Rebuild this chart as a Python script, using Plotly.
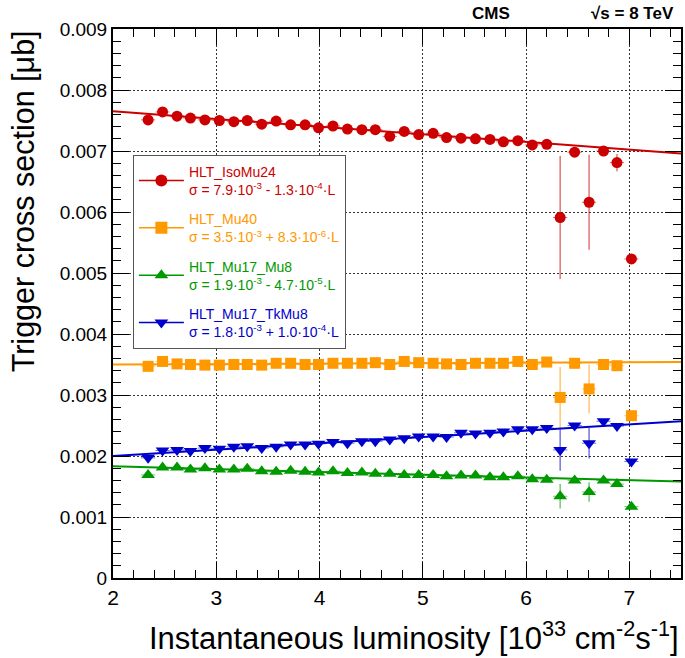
import plotly.graph_objects as go

# luminosity bin centres [10^33 cm^-2 s^-1]
lumi = [2.34, 2.48, 2.62, 2.75, 2.89, 3.03, 3.17, 3.30, 3.44, 3.58, 3.72, 3.86,
        3.99, 4.13, 4.27, 4.41, 4.54, 4.68, 4.82, 4.96, 5.10, 5.23, 5.37, 5.51,
        5.65, 5.78, 5.92, 6.06, 6.20, 6.33, 6.47, 6.61, 6.75, 6.88, 7.02]
lumi_halfwidth = 0.069

isomu24 = [0.00751, 0.00764, 0.00757, 0.00754, 0.00751, 0.00750, 0.00748, 0.00750,
           0.00744, 0.00749, 0.00743, 0.00743, 0.00738, 0.00741, 0.00736, 0.00735,
           0.00735, 0.00724, 0.00732, 0.00727, 0.00729, 0.00722, 0.00721, 0.00720,
           0.00719, 0.00715, 0.00717, 0.00710, 0.00711, 0.00591, 0.00698, 0.00616,
           0.00700, 0.00681, 0.00523]
isomu24_err = [0.00003] * 29 + [0.00101, 0.00004, 0.00078, 0.00004, 0.00014, 0.00004]

mu40 = [0.00347, 0.00355, 0.00351, 0.00350, 0.00349, 0.00349, 0.00350, 0.00350,
        0.00349, 0.00352, 0.00352, 0.00350, 0.00350, 0.00352, 0.00352, 0.00352,
        0.00353, 0.00350, 0.00355, 0.00353, 0.00352, 0.00351, 0.00350, 0.00352,
        0.00352, 0.00352, 0.00355, 0.00350, 0.00354, 0.00296, 0.00352, 0.00310,
        0.00350, 0.00348, 0.00266]
mu40_err = [0.00002] * 29 + [0.00050, 0.00003, 0.00040, 0.00003, 0.00005, 0.00003]

mu17_mu8 = [0.00169, 0.00181, 0.00181, 0.00178, 0.00180, 0.00178, 0.00178, 0.00179,
            0.00175, 0.00174, 0.00176, 0.00174, 0.00173, 0.00175, 0.00172, 0.00173,
            0.00171, 0.00171, 0.00169, 0.00169, 0.00169, 0.00167, 0.00168, 0.00168,
            0.00165, 0.00165, 0.00167, 0.00162, 0.00161, 0.00134, 0.00160, 0.00141,
            0.00160, 0.00154, 0.00117]
mu17_mu8_err = [0.00002] * 29 + [0.00020, 0.00002, 0.00016, 0.00002, 0.00004, 0.00002]

mu17_tkmu8 = [0.00197, 0.00209, 0.00210, 0.00208, 0.00213, 0.00212, 0.00215, 0.00216,
              0.00213, 0.00215, 0.00219, 0.00219, 0.00220, 0.00223, 0.00221, 0.00224,
              0.00224, 0.00227, 0.00229, 0.00232, 0.00232, 0.00231, 0.00238, 0.00237,
              0.00238, 0.00240, 0.00244, 0.00244, 0.00246, 0.00210, 0.00250, 0.00221,
              0.00257, 0.00249, 0.00191]
mu17_tkmu8_err = [0.00002] * 29 + [0.00034, 0.00003, 0.00025, 0.00003, 0.00004, 0.00003]

# linear fits, read at the axis ends
fit_x = [2.0, 7.5]
isomu24_fit = [0.00765, 0.00696]
mu40_fit = [0.00350, 0.00354]
mu17_mu8_fit = [0.00183, 0.00158]
mu17_tkmu8_fit = [0.00200, 0.00257]

series = [
    ("HLT_IsoMu24", "σ = 7.9·10<sup>-3</sup> - 1.3·10<sup>-4</sup>·L",
     isomu24, isomu24_err, isomu24_fit, "#cc0000", "rgba(204,0,0,0.55)", "circle", 11),
    ("HLT_Mu40", "σ = 3.5·10<sup>-3</sup> + 8.3·10<sup>-6</sup>·L",
     mu40, mu40_err, mu40_fit, "#ff9900", "rgba(255,153,0,0.55)", "square", 11),
    ("HLT_Mu17_Mu8", "σ = 1.9·10<sup>-3</sup> - 4.7·10<sup>-5</sup>·L",
     mu17_mu8, mu17_mu8_err, mu17_mu8_fit, "#009900", "rgba(0,153,0,0.55)", "triangle-up", 12),
    ("HLT_Mu17_TkMu8", "σ = 1.8·10<sup>-3</sup> + 1.0·10<sup>-4</sup>·L",
     mu17_tkmu8, mu17_tkmu8_err, mu17_tkmu8_fit, "#0000cc", "rgba(0,0,204,0.55)", "triangle-down", 12),
]

y_ticks = [0, 0.001, 0.002, 0.003, 0.004, 0.005, 0.006, 0.007, 0.008, 0.009]
y_ticktext = ["0", "0.001", "0.002", "0.003", "0.004", "0.005", "0.006", "0.007", "0.008", "0.009"]

fig = go.Figure()

for i, (name, formula, vals, errs, fit, col, col_light, sym, msize) in enumerate(series):
    grp = f"g{i}"
    fig.add_trace(go.Scatter(
        x=fit_x, y=fit, mode="lines", showlegend=False, legendgroup=grp,
        line=dict(color=col, width=2), hoverinfo="skip",
    ))
    fig.add_trace(go.Scatter(
        x=lumi, y=vals, mode="markers", showlegend=False, legendgroup=grp,
        marker=dict(symbol=sym, size=msize, color=col, line=dict(width=0)),
        error_y=dict(type="data", array=errs, color=col_light, thickness=1.5, width=0),
        error_x=dict(type="constant", value=lumi_halfwidth, color=col_light, thickness=1, width=0),
    ))
    # legend entry (marker with a horizontal line, like the fit)
    label = (f'<span style="color:{col}">{name}</span><br>'
             f'<span style="color:{col}">{formula}</span>')
    fig.add_trace(go.Scatter(
        x=[None], y=[None], mode="lines+markers", name=label, legendgroup=grp,
        legendrank=i, line=dict(color=col, width=1.5),
        marker=dict(symbol=sym, size=12, color=col),
    ))

axis_common = dict(
    showline=True, linecolor="black", linewidth=2, mirror="allticks",
    ticks="inside", ticklen=16, tickcolor="black", tickwidth=1,
    showgrid=True, gridcolor="#333333", gridwidth=1, griddash="2px,2px",
    zeroline=False,
)

fig.update_xaxes(
    range=[2, 7.5], tickvals=[2, 3, 4, 5, 6, 7],
    tickfont=dict(size=21, color="black"),
    minor=dict(ticks="inside", ticklen=8, dtick=0.2, tick0=2, tickcolor="black", showgrid=False),
    **axis_common,
)
fig.update_yaxes(
    range=[0, 0.009], tickvals=y_ticks, ticktext=y_ticktext,
    tickfont=dict(size=19, color="black"),
    minor=dict(ticks="inside", ticklen=8, dtick=0.0002, tick0=0, tickcolor="black", showgrid=False),
    **axis_common,
)

fig.add_annotation(text="Instantaneous luminosity [10<sup>33</sup> cm<sup>-2</sup>s<sup>-1</sup>]",
                   xref="paper", yref="paper", x=1.0, y=-0.105, xanchor="right", yanchor="middle",
                   showarrow=False, font=dict(size=31, color="black"))
fig.add_annotation(text="Trigger cross section [μb]", textangle=-90,
                   xref="paper", yref="paper", x=-0.156, y=1.002, xanchor="center", yanchor="top",
                   showarrow=False, font=dict(size=30.5, color="black"))
fig.add_annotation(text="<b>CMS</b>", xref="paper", yref="paper", x=0.665, y=1.028,
                   xanchor="center", yanchor="middle", showarrow=False,
                   font=dict(size=17, color="black"))
fig.add_annotation(text="<b>√s = 8 TeV</b>", xref="paper", yref="paper", x=0.992, y=1.028,
                   xanchor="right", yanchor="middle", showarrow=False,
                   font=dict(size=17, color="black"))

fig.update_layout(
    width=685, height=658,
    margin=dict(l=113, r=2, t=29, b=80),
    paper_bgcolor="white", plot_bgcolor="white",
    font=dict(family="Liberation Sans, Arial, sans-serif", color="black"),
    legend=dict(x=0.035, y=0.771, xanchor="left", yanchor="top",
                bgcolor="white", bordercolor="#555555", borderwidth=1,
                font=dict(size=14), itemsizing="trace", itemwidth=45, tracegroupgap=8,
                traceorder="grouped"),
)

fig.write_html("out.html", config={"displayModeBar": False},
               post_script="document.body.style.margin = '0';")
